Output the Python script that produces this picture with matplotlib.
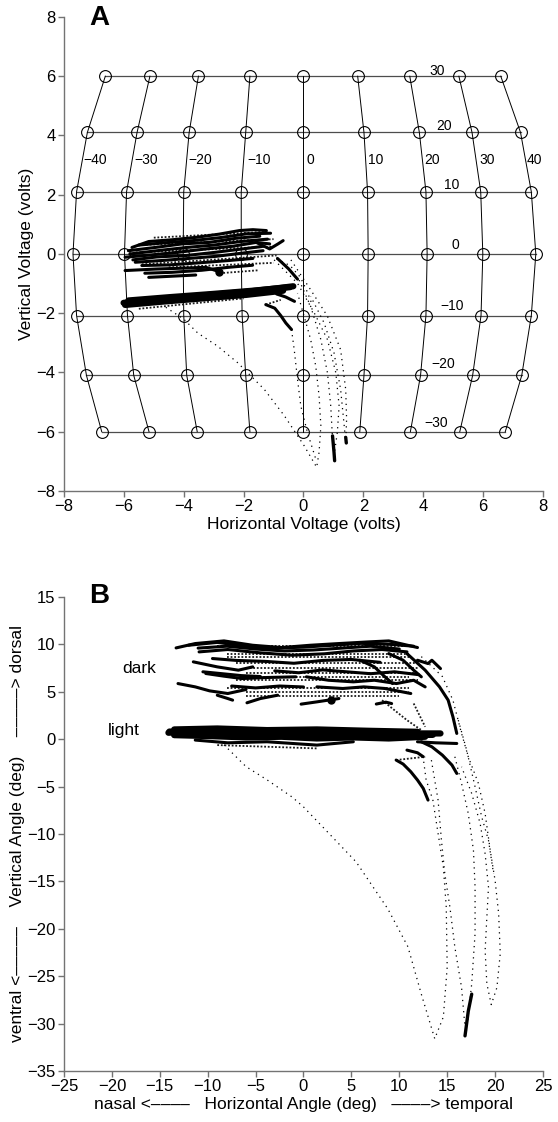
import matplotlib.pyplot as plt

plt.rcParams['font.family'] = ['Liberation Sans', 'DejaVu Sans']

# ---------------- panel A : calibration grid (volts) ----------------
grid_v_deg = ["30", "20", "10", "0", "\u221210", "\u221220", "\u221230"]
grid_h_deg = ["\u221240", "\u221230", "\u221220", "\u221210", "0", "10", "20", "30", "40"]
grid_row_y = [6.0, 4.1, 2.1, 0.0, -2.08, -4.1, -6.0]
grid_row_x = [
    [-6.62, -5.13, -3.51, -1.79, 0.0, 1.81, 3.55, 5.19, 6.59],
    [-7.22, -5.56, -3.82, -1.93, 0.0, 2.02, 3.87, 5.63, 7.25],
    [-7.58, -5.91, -4.00, -2.08, 0.0, 2.14, 4.09, 5.92, 7.61],
    [-7.70, -5.98, -4.02, -2.08, 0.0, 2.16, 4.13, 5.99, 7.76],
    [-7.58, -5.88, -4.00, -2.05, 0.0, 2.14, 4.09, 5.93, 7.61],
    [-7.25, -5.67, -3.90, -1.93, 0.0, 2.02, 3.91, 5.65, 7.29],
    [-6.74, -5.16, -3.55, -1.79, 0.0, 1.88, 3.57, 5.22, 6.74],
]
row_label_x = [4.47, 4.71, 4.95, 5.07, 4.95, 4.67, 4.43]
row_label_y = [6.19, 4.31, 2.34, 0.29, -1.74, -3.73, -5.69]
col_label_x = [-7.34, -5.64, -3.85, -1.86, 0.1, 2.14, 4.05, 5.88, 7.46]
col_label_y = 3.17

# eye traces in volts: solid = slow drift, dotted = fast movements
a_solid = [
    ([-5.73, -5.17, -4.38, -3.6, -2.81, -2.14, -1.69, -1.24], [0.22, 0.42, 0.48, 0.56, 0.67, 0.79, 0.82, 0.79]),
    ([-5.5, -4.6, -3.7, -2.8, -1.9, -1.1], [0.3, 0.38, 0.45, 0.55, 0.68, 0.7]),
    ([-5.85, -4.95, -4.05, -3.15, -2.25, -1.46], [0.11, 0.22, 0.34, 0.39, 0.53, 0.6]),
    ([-5.8, -4.8, -3.9, -3.0, -2.1, -1.2], [0.0, 0.12, 0.22, 0.3, 0.42, 0.5]),
    ([-5.96, -5.06, -4.16, -3.26, -2.36, -1.58, -1.13], [-0.11, -0.03, 0.06, 0.17, 0.26, 0.39, 0.34]),
    ([-5.7, -4.9, -3.9, -3.0, -2.2, -1.4], [-0.2, -0.1, -0.05, 0.05, 0.15, 0.25]),
    ([-5.62, -4.72, -3.82, -2.92, -2.03, -1.35], [-0.28, -0.22, -0.15, -0.08, 0.03, 0.11]),
    ([-5.4, -4.5, -3.49, -2.48, -1.69], [-0.39, -0.37, -0.3, -0.22, -0.15]),
    ([-5.96, -4.95, -4.05, -3.26, -2.81], [-0.56, -0.51, -0.48, -0.45, -0.6]),
    ([-5.3, -4.4, -3.4, -2.5, -1.7], [-0.65, -0.62, -0.55, -0.45, -0.38]),
    ([-5.17, -4.38, -3.6], [-0.79, -0.75, -0.71]),
    ([-1.58, -1.13, -0.85, -0.68], [0.39, 0.17, 0.34, 0.45]),
    ([-0.87, -0.5, -0.2], [-0.15, -0.5, -0.85]),
    ([-1.26, -0.96, -0.76, -0.59, -0.4], [-1.71, -1.83, -2.08, -2.33, -2.55]),
    ([-0.9, -0.6, -0.3], [-1.35, -1.45, -1.6]),
]
a_band = [
    ([-6.01, -4.72, -3.37, -2.03, -0.9, -0.34], [-1.65, -1.52, -1.4, -1.29, -1.16, -1.09]),
    ([-5.96, -4.72, -3.26, -1.91, -0.68], [-1.72, -1.61, -1.49, -1.38, -1.24]),
    ([-5.85, -4.5, -3.04, -1.69, -0.45], [-1.57, -1.46, -1.35, -1.24, -1.12]),
]
a_blob = [(-2.81, -0.6)]
a_stipple = [
    ([-5.0, -1.2], [0.55, 0.75]),
    ([-5.5, -1.0], [0.3, 0.5]),
    ([-5.6, -1.0], [0.05, 0.25]),
    ([-5.4, -0.9], [-0.35, -0.05]),
    ([-4.5, -1.0], [-0.45, -0.3]),
    ([-2.8, -1.5], [-0.65, -0.55]),
    ([-5.5, -2.0], [-1.85, -1.5]),
    ([-1.26, -0.76], [-1.71, -1.55]),
]
a_dotted = [
    ([-4.6, -4.0, -3.53, -2.87, -2.2, -1.31, -0.64, 0.02, 0.44, 0.52, 0.58, 0.52, 0.41, 0.24, 0.02, -0.2],
     [-1.8, -2.2, -2.67, -3.11, -3.67, -4.57, -5.46, -6.47, -7.2, -6.7, -5.8, -4.79, -3.79, -2.89, -2.1, -1.32]),
    ([-0.98, -0.2, 0.36, 0.8, 1.08, 1.19, 1.13, 1.02, 0.97, 0.91, 0.8, 0.58, 0.24, -0.2],
     [-0.2, -0.99, -1.99, -2.89, -4.01, -5.13, -6.02, -6.81, -6.25, -5.13, -4.01, -2.89, -1.77, -0.76]),
    ([-0.42, 0.24, 0.8, 1.24, 1.41, 1.44, 1.41, 1.36, 1.24, 1.02, 0.69, 0.24],
     [-0.2, -1.21, -2.1, -3.23, -4.57, -5.58, -6.38, -5.8, -4.57, -3.34, -2.33, -1.43]),
    ([-0.4, -0.31, -0.2, -0.09, 0.13, 0.41], [-2.55, -3.23, -4.23, -5.13, -6.02, -6.92]),
    ([-0.9, -0.45, -0.1, 0.13, 0.3], [-0.17, -0.39, -0.79, -1.29, -1.74]),
]
a_streak = [
    ([0.97, 1.02, 1.04], [-6.14, -6.7, -6.98]),
    ([1.41, 1.43], [-6.19, -6.38]),
]

# ---------------- panel B : eye position (deg) ----------------
b_solid = [
    ([-13.3, -11.3, -8.3, -5.3, -2.3, 0.7, 3.7, 6.7, 8.9, 11.9], [9.62, 10.08, 10.36, 9.9, 9.66, 9.9, 10.08, 10.25, 10.36, 9.66]),
    ([-12.0, -9.0, -6.0, -3.0, 0.0, 3.0, 6.0, 9.0, 11.5], [9.9, 10.2, 9.8, 9.6, 9.7, 9.9, 10.1, 10.0, 9.8]),
    ([-11.0, -8.0, -5.0, -2.0, 1.0, 4.0, 7.0, 10.0], [9.6, 9.8, 9.5, 9.3, 9.4, 9.6, 9.8, 9.5]),
    ([-10.9, -7.9, -4.5, -1.2, 2.2, 5.2, 8.2, 10.8], [9.2, 9.45, 9.1, 8.85, 9.0, 9.3, 9.45, 9.2]),
    ([-9.5, -7.0, -4.0, -1.0, 2.0, 5.0, 8.0], [8.5, 8.3, 8.2, 8.0, 8.3, 8.4, 8.1]),
    ([-11.5, -9.0, -6.8, -5.3], [8.15, 7.62, 7.27, 7.62]),
    ([-10.5, -8.5, -6.5, -4.5], [7.1, 6.9, 6.7, 6.6]),
    ([-3.0, -0.5, 2.0, 4.5, 7.0, 9.5, 12.0], [7.2, 7.0, 7.3, 7.1, 6.9, 7.1, 6.8]),
    ([-10.2, -8.3, -6.4, -3.8, -0.8], [6.92, 6.64, 6.39, 6.5, 6.57]),
    ([-13.1, -11.3, -9.8, -7.9, -6.0], [5.86, 5.51, 5.09, 4.81, 5.23]),
    ([-7.5, -5.0, -2.5, 0.0], [5.6, 5.4, 5.6, 5.5]),
    ([-9.0, -7.9, -7.4], [4.63, 4.28, 4.11]),
    ([-5.9, -4.5, -2.7], [3.83, 4.28, 4.63]),
    ([-0.25, 1.4, 3.7], [3.69, 3.93, 4.28]),
    ([7.6, 8.6, 9.2], [3.7, 3.9, 3.75]),
    ([0.3, 2.6, 5.2, 7.4, 9.7, 11.5, 12.7], [6.57, 6.21, 6.04, 6.21, 5.86, 6.21, 5.51]),
    ([1.4, 4.1, 6.3, 8.5, 11.2], [5.51, 5.34, 5.51, 5.34, 4.81]),
    ([5.9, 7.4, 8.5, 9.3], [8.32, 7.62, 6.57, 5.86]),
    ([8.9, 10.4, 11.5, 12.3], [9.02, 8.32, 7.27, 6.57]),
    ([11.9, 13.0, 13.4, 14.3], [8.32, 7.97, 8.32, 7.44]),
    ([10.8, 12.7, 14.2, 15.1, 15.6, 16.0], [9.02, 7.27, 5.51, 4.11, 2.35, 0.6]),
    ([-11.3, -7.9, -3.8, 1.4, 5.2], [-0.1, -0.39, -0.28, -0.63, -0.28]),
    ([11.9, 13.8, 16.0], [-0.28, -0.39, -0.46]),
    ([12.3, 13.4, 14.5, 15.5, 16.0], [-0.28, -0.81, -1.69, -2.74, -3.62]),
    ([10.8, 11.9, 12.5], [-1.16, -1.44, -1.86]),
    ([9.67, 10.4, 11.2, 11.9, 12.5, 13.0], [-2.21, -2.63, -3.44, -4.32, -5.2, -6.43]),
]
b_band = [
    ([-14.1, -11.3, -7.5, -3.8, 0.0, 3.7, 7.4, 11.2, 14.3], [0.67, 0.88, 0.77, 0.67, 0.77, 0.6, 0.67, 0.6, 0.6]),
    ([-14.0, -10.0, -5.0, 0.0, 5.0, 10.0, 13.5], [0.8, 0.6, 0.5, 0.45, 0.4, 0.4, 0.45]),
    ([-13.5, -9.8, -6.0, -2.3, 1.4, 5.2, 8.9, 12.7], [0.42, 0.32, 0.18, 0.25, 0.07, 0.18, 0.07, 0.25]),
    ([-13.5, -9.0, -3.8, 1.4, 6.7, 11.9], [1.02, 1.12, 0.95, 1.02, 0.88, 0.77]),
]
b_blob = [(2.9, 4.15)]
b_stipple = [
    ([-9.0, 11.5], [9.8, 9.8]),
    ([-8.0, 11.0], [9.0, 9.0]),
    ([-8.0, 11.0], [8.7, 8.7]),
    ([-7.0, 12.0], [8.0, 8.0]),
    ([-6.0, 12.0], [7.5, 7.5]),
    ([-6.0, 12.0], [7.0, 7.0]),
    ([-5.0, 11.0], [6.6, 6.6]),
    ([-7.0, 12.0], [6.2, 6.2]),
    ([-8.0, 11.0], [5.4, 5.4]),
    ([-6.0, 11.0], [5.0, 5.0]),
    ([-6.0, 10.0], [4.6, 4.6]),
    ([-9.0, 1.4], [-0.63, -0.98]),
    ([9.67, 12.7], [-2.21, -1.86]),
    ([8.2, 10.8, 12.3], [4.1, 2.0, 0.95]),
    ([11.5, 12.7], [3.76, 1.3]),
]
b_dotted = [
    ([-8.3, -6.0, -3.8, -1.2, 0.0, 2.8, 5.5, 8.8, 10.9, 12.3, 13.7, 14.6, 15.0, 14.9, 14.6, 14.05, 13.5, 12.8, 12.5],
     [-0.6, -2.9, -4.3, -6.1, -7.15, -10.1, -12.96, -17.9, -21.9, -26.9, -31.6, -29.3, -24.05, -17.7, -13.5, -9.96, -6.4, -4.3, -2.0]),
    ([13.35, 14.05, 14.4, 14.75, 15.28, 15.8, 16.5, 16.86], [-2.22, -6.44, -10.67, -14.19, -17.7, -21.94, -26.2, -30.4]),
    ([15.8, 16.5, 17.2, 17.74, 17.91, 17.91, 17.56, 17.03], [-1.86, -4.68, -7.85, -11.72, -15.6, -20.5, -25.8, -30.7]),
    ([12.3, 14.5, 15.6, 16.5, 17.2, 18.26, 18.96, 19.49, 20.0, 20.37, 20.54, 20.19, 19.6, 19.14, 18.96, 19.14, 19.31, 18.96, 18.44, 17.56, 16.5],
     [8.7, 6.6, 4.1, 0.6, -1.86, -4.68, -7.85, -11.72, -14.9, -18.4, -22.6, -26.2, -28.0, -25.8, -22.3, -18.8, -15.6, -12.1, -8.9, -5.74, -2.92]),
    ([16.16, 17.03, 17.91, 18.6, 19.31, 19.84], [2.0, -1.16, -5.03, -8.2, -10.67, -14.19]),
]
b_streak = [
    ([17.56, 17.2, 16.86], [-26.9, -28.7, -31.3]),
]

AXIS_GREY = '0.45'
TICK_SIZE = 12
LABEL_SIZE = 12.5


def style_axes(ax):
    for side in ['top', 'right']:
        ax.spines[side].set_visible(False)
    for side in ['left', 'bottom']:
        ax.spines[side].set_color(AXIS_GREY)
        ax.spines[side].set_linewidth(1.0)
    ax.tick_params(direction='out', length=4, width=1.0, color=AXIS_GREY,
                   labelsize=TICK_SIZE, pad=2)


def draw_traces(ax, solid, band, blob, stipple, dotted, streak):
    for xs, ys in stipple:
        ax.plot(xs, ys, color='0.1', lw=1.3, ls=(0, (1, 1)))
    for xs, ys in dotted:
        ax.plot(xs, ys, color='k', lw=0.9, ls=(0, (1, 3.5)))
    for xs, ys in band:
        ax.plot(xs, ys, color='k', lw=4.5, solid_capstyle='round')
    for xs, ys in solid:
        ax.plot(xs, ys, color='k', lw=2.2, solid_capstyle='round')
    for xs, ys in streak:
        ax.plot(xs, ys, color='k', lw=2.4, solid_capstyle='round')
    for x, y in blob:
        ax.plot(x, y, 'o', color='k', ms=5)


fig = plt.figure(figsize=(5.58, 11.22), dpi=100)

# ---- A ----
ax1 = fig.add_axes([0.1147, 0.5624, 0.8584, 0.4225])
style_axes(ax1)
for xs, y in zip(grid_row_x, grid_row_y):
    ax1.plot(xs, [y] * len(xs), color='0.3', lw=0.9, zorder=1)
for j in range(len(grid_h_deg)):
    ax1.plot([row[j] for row in grid_row_x], grid_row_y, color='k', lw=0.7, zorder=1)
for xs, y in zip(grid_row_x, grid_row_y):
    ax1.plot(xs, [y] * len(xs), 'o', ms=8.5, mfc='none', mec='k', mew=0.8, zorder=2)
for lab, x, y in zip(grid_v_deg, row_label_x, row_label_y):
    ax1.text(x, y, lab, fontsize=10, ha='center', va='center')
for lab, x in zip(grid_h_deg, col_label_x):
    ax1.text(x, col_label_y, lab, fontsize=10, ha='left', va='center')

draw_traces(ax1, a_solid, a_band, a_blob, a_stipple, a_dotted, a_streak)

ax1.set_xlim(-8, 8)
ax1.set_ylim(-8, 8)
ax1.set_xticks(range(-8, 9, 2))
ax1.set_yticks(range(-8, 9, 2))
ax1.set_xlabel('Horizontal Voltage (volts)', fontsize=LABEL_SIZE, labelpad=2)
ax1.set_ylabel('Vertical Voltage (volts)', fontsize=LABEL_SIZE, labelpad=2)
ax1.text(-7.15, 7.95, 'A', fontsize=20, fontweight='bold', ha='left', va='center')

# ---- B ----
ax2 = fig.add_axes([0.1147, 0.0455, 0.8584, 0.4225])
style_axes(ax2)
draw_traces(ax2, b_solid, b_band, b_blob, b_stipple, b_dotted, b_streak)
ax2.text(-18.9, 7.44, 'dark', fontsize=LABEL_SIZE, ha='left', va='center')
ax2.text(-20.4, 0.95, 'light', fontsize=LABEL_SIZE, ha='left', va='center')

ax2.set_xlim(-25, 25)
ax2.set_ylim(-35, 15)
ax2.set_xticks(range(-25, 26, 5))
ax2.set_yticks(range(-35, 16, 5))
ax2.set_xlabel('nasal <\u2013\u2013\u2013\u2013   Horizontal Angle (deg)   \u2013\u2013\u2013\u2013> temporal',
               fontsize=LABEL_SIZE, labelpad=2)
ax2.set_ylabel('ventral <\u2013\u2013\u2013\u2013\u2013    Vertical Angle (deg)    \u2013\u2013\u2013\u2013\u2013> dorsal',
               fontsize=LABEL_SIZE, labelpad=2)
ax2.text(-22.4, 15.1, 'B', fontsize=20, fontweight='bold', ha='left', va='center')

fig.savefig('out.png', dpi=100)
